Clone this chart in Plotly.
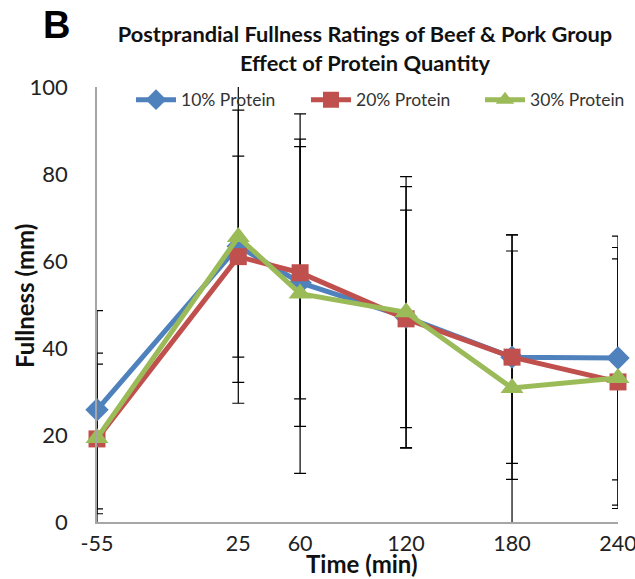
import plotly.graph_objects as go

time_min = [-55, 25, 60, 120, 180, 240]
x_tick_labels = ["-55", "25", "60", "120", "180", "240"]

p10_mean = [25.8, 63.4, 55.0, 47.1, 37.9, 37.7]
p10_err = [22.8, 31.3, 33.0, 30.0, 28.1, 28.0]
p20_mean = [19.1, 61.0, 57.3, 46.7, 37.9, 32.2]
p20_err = [17.2, 23.1, 29.0, 25.0, 24.4, 28.3]
p30_mean = [19.3, 65.5, 52.5, 48.2, 30.8, 33.1]
p30_err = [19.5, 38.2, 41.3, 31.2, 35.2, 30.0]

series = [
    ("10% Protein", p10_mean, p10_err, "#4F81BD", "diamond", 18, "legend"),
    ("20% Protein", p20_mean, p20_err, "#C0504D", "square", 17, "legend2"),
    ("30% Protein", p30_mean, p30_err, "#9BBB59", "triangle-up", 20, "legend3"),
]

fig = go.Figure()

# error bars first (clipped to plot area)
for name, m, e, c, sym, sz, lg in series:
    fig.add_trace(go.Scatter(
        x=time_min, y=m, mode="markers",
        marker=dict(size=1, opacity=0),
        error_y=dict(type="data", array=e, visible=True, color="black",
                     thickness=1.2, width=6),
        cliponaxis=True, showlegend=False, hoverinfo="skip"))

for name, m, e, c, sym, sz, lg in series:
    fig.add_trace(go.Scatter(
        x=time_min, y=m, name=name, mode="lines+markers",
        line=dict(color=c, width=5),
        marker=dict(symbol=sym, size=sz, color=c),
        cliponaxis=False, legend=lg))

W, H = 635, 579
PW = 521


def legend_at(px):
    return dict(orientation="h", x=px / PW, xanchor="left", y=1.012, yanchor="top",
                font=dict(family="Lato", size=17.5, color="#333"),
                bgcolor="rgba(0,0,0,0)", itemwidth=40)


fig.update_layout(
    width=W, height=H,
    margin=dict(l=97, r=17, t=87, b=57, autoexpand=False),
    paper_bgcolor="white", plot_bgcolor="white",
    font=dict(family="Lato", color="#222"),
    showlegend=True,
    legend=legend_at(34),
    legend2=legend_at(209),
    legend3=legend_at(383),
    xaxis=dict(range=[-55, 240], tickmode="array", tickvals=time_min,
               ticktext=x_tick_labels, showgrid=False, zeroline=False,
               showline=True, linecolor="#A6A6A6", linewidth=1.5, ticks="",
               tickfont=dict(family="Lato", size=21.5, color="#222"),
               ticklabelstandoff=1, automargin=False, ticklabeloverflow="allow"),
    yaxis=dict(range=[0, 100], tickvals=[0, 20, 40, 60, 80, 100], showgrid=False,
               zeroline=False, showline=True, linecolor="#A6A6A6", linewidth=1.5,
               ticks="", tickfont=dict(family="Lato", size=22, color="#222"),
               ticklabelstandoff=23, automargin=False),
    title=dict(text="<b>Postprandial Fullness Ratings of Beef & Pork Group<br>Effect of Protein Quantity</b>",
               x=(365 - 97) / PW, xref="paper", xanchor="center", y=1 - 42.2 / H, yanchor="top",
               font=dict(family="Lato", size=21.8, color="#111"), automargin=False),
)

fig.add_annotation(text="<b>Time (min)</b>", xref="paper", yref="paper",
                   x=(362 - 97) / PW, y=(522 - 563) / 435, xanchor="center", yanchor="middle",
                   showarrow=False, font=dict(family="Lato", size=24, color="#111"))
fig.add_annotation(text="<b>Fullness (mm)</b>", xref="paper", yref="paper", textangle=-90,
                   x=(24 - 97) / PW, y=(522 - 296) / 435, xanchor="center", yanchor="middle",
                   showarrow=False, font=dict(family="Lato", size=24, color="#111"))
fig.add_annotation(text="<b>B</b>", xref="paper", yref="paper", x=(41 - 97) / PW, y=1.195,
                   xanchor="left", yanchor="top", showarrow=False,
                   font=dict(family="Liberation Sans", size=38, color="black"))

# remove the page's default 8px body margin so the figure fills the window exactly
fig.write_html("out.html", config={"displayModeBar": False}, post_script=(
    "document.body.style.margin='0px';"
    "document.documentElement.style.overflow='hidden';"))
